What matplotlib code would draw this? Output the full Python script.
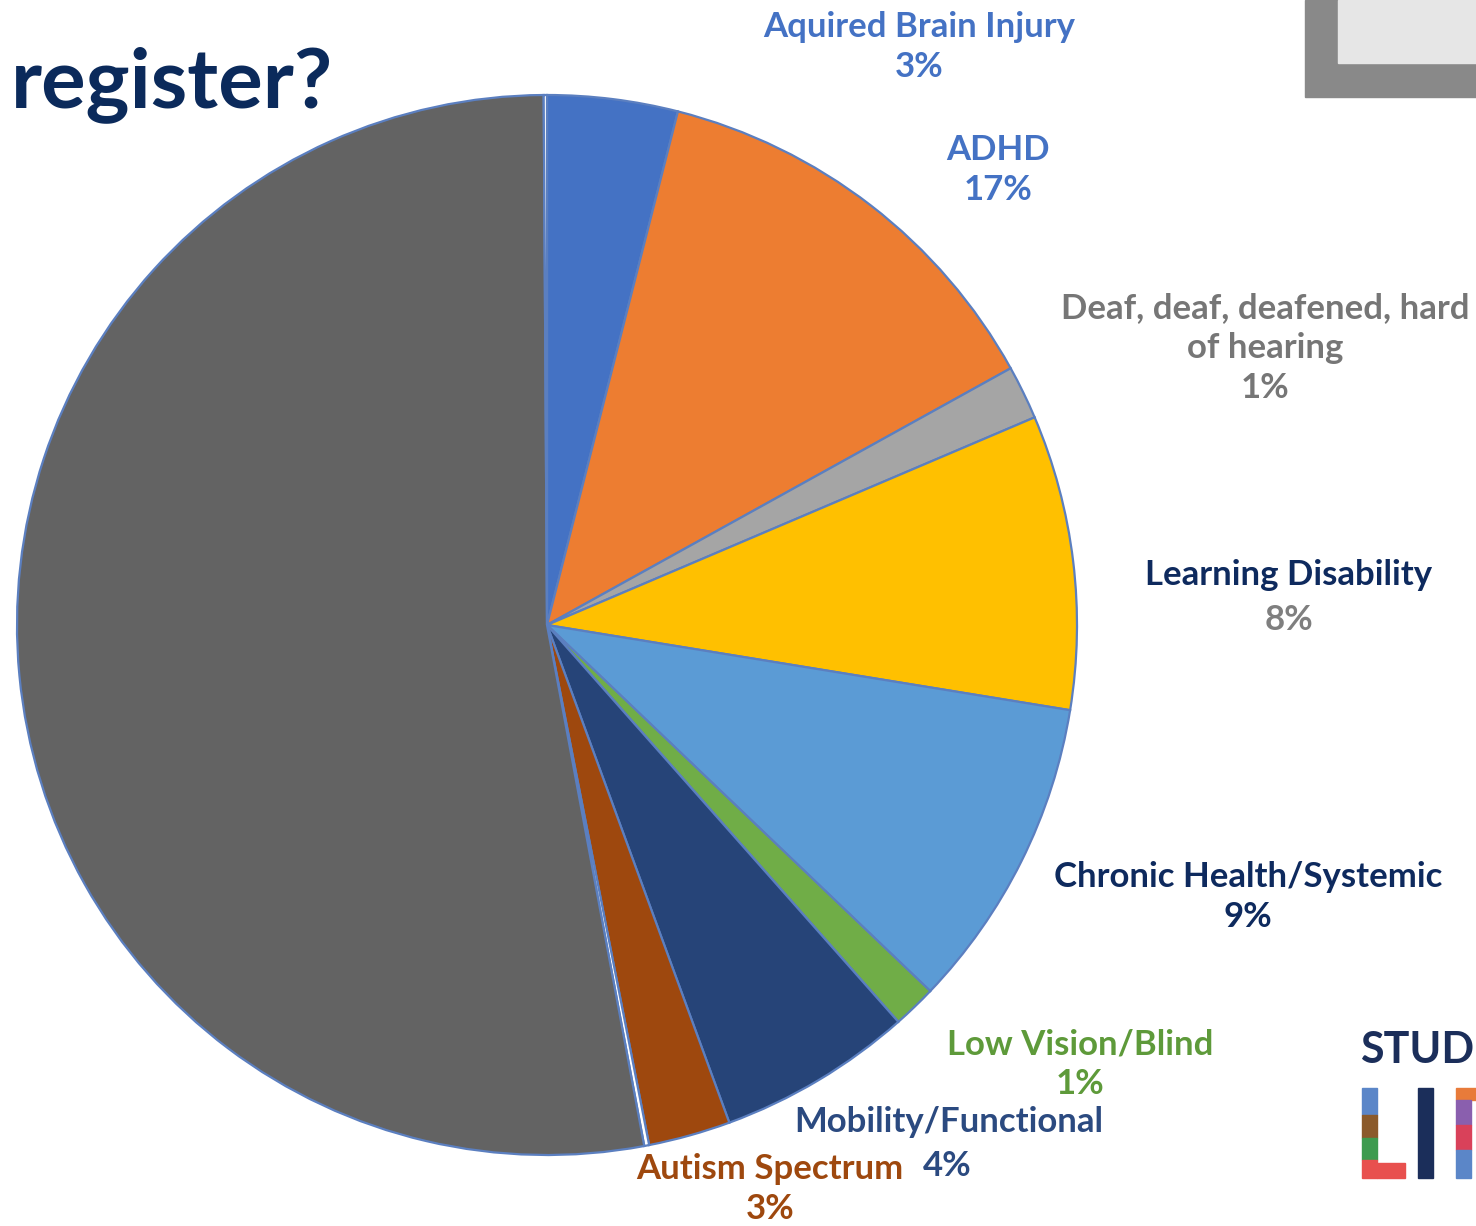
import matplotlib.pyplot as plt
from matplotlib.patches import Rectangle

# slice values (share of the pie), clockwise from 12 o'clock
categories = ["Aquired Brain Injury", "ADHD", "Deaf, deaf, deafened, hard of hearing",
              "Learning Disability", "Chronic Health/Systemic", "Low Vision/Blind",
              "Mobility/Functional", "Autism Spectrum", "gap", "No disability", "gap2"]
values = [3.97, 12.97, 1.64, 8.97, 9.56, 1.33, 5.94, 2.5, 0.15, 52.8, 0.1]
colors = ["#4472C4", "#ED7D31", "#A5A5A5", "#FFC000", "#5B9BD5", "#70AD47",
          "#264478", "#9E480E", "#FFFFFF", "#636363", "#FFFFFF"]

# data labels as printed on the chart
label_text = ["Aquired Brain Injury\n3%", "ADHD\n17%", "Deaf, deaf, deafened, hard\nof hearing\n1%",
              "Learning Disability", "Chronic Health/Systemic\n9%", "Low Vision/Blind\n1%",
              "Mobility/Functional", "Autism Spectrum\n3%"]

W, H = 1476, 1226
fig = plt.figure(figsize=(W / 100, H / 100), dpi=100)
plt.rcParams['font.family'] = ['Lato', 'DejaVu Sans']


def fx(x):
    return x / W


def fy(y):
    return 1 - y / H


def box(x0, y0, x1, y1, c):
    # rectangle given in picture pixels (top-left origin)
    fig.patches.append(Rectangle((fx(x0), fy(y1)), (x1 - x0) / W, (y1 - y0) / H,
                                 transform=fig.transFigure, color=c, zorder=0))


# pie axes: centre ~ (547, 625) px, radius ~ 530 px
cx, cy, r = 547, 625, 530
ax = fig.add_axes([fx(cx - r), fy(cy + r), 2 * r / W, 2 * r / H])
ax.pie(values, colors=colors, startangle=90, counterclock=False, radius=1,
       wedgeprops=dict(edgecolor="#5B7FC0", linewidth=1.6))
ax.set_xlim(-1, 1)
ax.set_ylim(-1, 1)
ax.set_aspect("equal")
ax.axis("off")

fs = 25
lab_kw = dict(ha="center", va="center", fontsize=fs, fontweight="bold", linespacing=1.3)
fig.text(fx(919), fy(47), label_text[0], color="#4472C4", **lab_kw)
fig.text(fx(998), fy(170), label_text[1], color="#4472C4", **lab_kw)
fig.text(fx(1265), fy(348), label_text[2], color="#767676", **lab_kw)
fig.text(fx(1289), fy(575), label_text[3], color="#0E2A5E", **lab_kw)
fig.text(fx(1289), fy(620), "8%", color="#7F7F7F", **lab_kw)
fig.text(fx(1248), fy(897), label_text[4], color="#0E2A5E", **lab_kw)
fig.text(fx(1080), fy(1064), label_text[5], color="#5E9A3A", **lab_kw)
fig.text(fx(949), fy(1122), label_text[6], color="#2B4A80", **lab_kw)
fig.text(fx(947), fy(1166), "4%", color="#2B4A80", **lab_kw)
fig.text(fx(770), fy(1189), label_text[7], color="#9E480E", **lab_kw)

# slide title fragment
fig.text(fx(333), fy(85), "register?", ha="right", va="center", fontsize=60,
         fontweight="bold", color="#0B2A5B")

# grey frame in top right corner
box(1305, 0, W, 97, "#898989")
box(1338, 0, W, 63, "#E6E6E6")

# logo fragment
fig.text(fx(1360), fy(1050), "STUD", ha="left", va="center", fontsize=31,
         fontweight="bold", color="#1B2E5A")
# "L"
box(1362, 1088, 1377, 1115, "#5B86C8")
box(1362, 1115, 1377, 1138, "#8B5A2B")
box(1362, 1138, 1377, 1160, "#3E9B4F")
box(1362, 1160, 1377, 1178, "#E8504E")
box(1377, 1163, 1405, 1178, "#E8504E")
# "I"
box(1418, 1088, 1433, 1178, "#1B2E5A")
# "F" (cut at the edge)
box(1456, 1088, 1476, 1100, "#E87B3A")
box(1456, 1100, 1471, 1125, "#8A5FAE")
box(1456, 1125, 1471, 1150, "#D9415A")
box(1456, 1150, 1471, 1178, "#5B86C8")

fig.savefig("out.png", dpi=100, facecolor="white")
